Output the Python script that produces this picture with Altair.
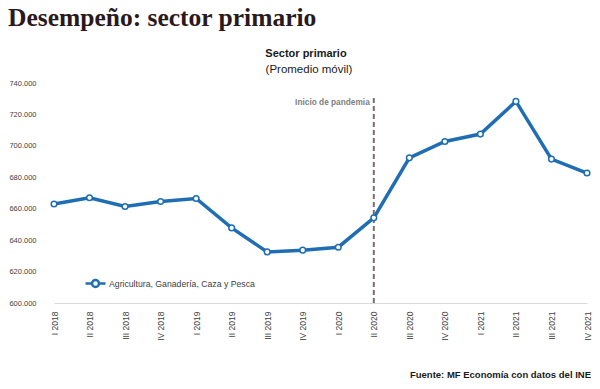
import altair as alt
import pandas as pd

quarters = ["I 2018", "II 2018", "III 2018", "IV 2018",
            "I 2019", "II 2019", "III 2019", "IV 2019",
            "I 2020", "II 2020", "III 2020", "IV 2020",
            "I 2021", "II 2021", "III 2021", "IV 2021"]
values = [663000, 667000, 661400, 664600,
          666500, 647800, 632500, 633600,
          635500, 654200, 692400, 702800,
          707500, 728300, 691600, 682700]
series_name = "Agricultura, Ganadería, Caza y Pesca"
pandemic_quarter = "II 2020"
pandemic_top = 731000
pandemic_label = "Inicio de pandemia"
y_ticks = [600000, 620000, 640000, 660000, 680000, 700000, 720000, 740000]

main_title = "Desempeño: sector primario"
chart_title = "Sector primario"
chart_subtitle = "(Promedio móvil)"
source_text = "Fuente: MF Economía con datos del INE"

BLUE = "#1f6db3"
W, H = 552, 220

df = pd.DataFrame({"q": quarters, "v": values, "s": series_name})
ev = pd.DataFrame({"q": [pandemic_quarter], "y0": [600000], "y1": [pandemic_top], "t": [pandemic_label]})

xaxis = alt.Axis(title=None, labelAngle=270, labelFontSize=8.5, labelColor="#404040",
                 labelFont="Liberation Sans", labelPadding=8, ticks=False,
                 labelOverlap=False, domainColor="#d9d9d9", domainWidth=1)
xenc = alt.X("q:N", sort=quarters,
             scale=alt.Scale(type="point", range=[14, 547], padding=0, round=False),
             axis=xaxis)
yscale = alt.Scale(domain=[600000, 740000], nice=False, zero=False)
yaxis = alt.Axis(title=None, values=y_ticks,
                 labelExpr="format(datum.value/1000, 'd') + '.000'", labelFontSize=7.5,
                 labelColor="#404040", labelFont="Liberation Sans", labelPadding=4,
                 labelOverlap=False, ticks=False, domain=False, grid=False)

legend_symbol = "M-1,0 L-0.35,0 M0.35,0 L1,0 M0.35,0 A0.35,0.35 0 1 1 -0.35,0 A0.35,0.35 0 1 1 0.35,0"

line = alt.Chart(df).mark_line(strokeWidth=3.5).encode(
    x=xenc,
    y=alt.Y("v:Q", scale=yscale, axis=yaxis),
    color=alt.Color("s:N", scale=alt.Scale(range=[BLUE]),
                    legend=alt.Legend(title=None, orient="none", legendX=44, legendY=189,
                                      symbolType=legend_symbol, symbolSize=400,
                                      symbolStrokeWidth=2.5, symbolFillColor="white",
                                      symbolStrokeColor=BLUE, labelFontSize=8.7,
                                      labelFont="Liberation Sans", labelColor="#404040",
                                      labelOffset=2)),
)
points = alt.Chart(df).mark_point(filled=True, fill="white", stroke=BLUE, strokeWidth=1.5,
                                  size=32, opacity=1).encode(
    x=alt.X("q:N", sort=quarters, axis=xaxis),
    y=alt.Y("v:Q", axis=yaxis),
)

rule = alt.Chart(ev).mark_rule(color="#7d6b6e", strokeWidth=2, strokeDash=[5, 3]).encode(
    x=alt.X("q:N", sort=quarters, axis=xaxis),
    y=alt.Y("y0:Q", axis=yaxis),
    y2="y1:Q",
)
rule_label = alt.Chart(ev).mark_text(align="right", baseline="middle", dx=-4, dy=6, fontSize=8.3,
                                     fontWeight="bold", color="#7f7f7f",
                                     font="Liberation Sans").encode(
    x=alt.X("q:N", sort=quarters, axis=xaxis),
    y=alt.Y("y1:Q", axis=yaxis),
    text="t:N",
)

def txt(t, x, y, **kw):
    return alt.Chart(pd.DataFrame({"t": [t]})).mark_text(**kw).encode(
        x=alt.value(x), y=alt.value(y), text="t:N")

t_main = txt(main_title, -32, -57, align="left", baseline="alphabetic", fontSize=25.5,
             fontWeight="bold", font="Liberation Serif", color="#2a1a1c")
t_title = txt(chart_title, 266, -26, align="center", baseline="alphabetic", fontSize=11,
              fontWeight="bold", font="Liberation Sans", color="#1a1a1a")
t_sub = txt(chart_subtitle, 269, -10, align="center", baseline="alphabetic", fontSize=11.5,
            font="Liberation Sans", color="#1a1a1a")
t_src = txt(source_text, 551, 295, align="right", baseline="alphabetic", fontSize=9.5,
            fontWeight="bold", font="Liberation Sans", color="#1a1a1a")

chart = alt.layer(line, rule, points, rule_label, t_main, t_title, t_sub, t_src).properties(
    width=W, height=H,
    autosize=alt.AutoSizeParams(type="none"),
    padding={"left": 32, "top": 75, "right": 0, "bottom": 77},
).configure_view(stroke=None).configure_axis(grid=False).configure_axisY(labelOverlap=False)

chart.save("out.html", embed_options={"renderer": "svg", "actions": False})
